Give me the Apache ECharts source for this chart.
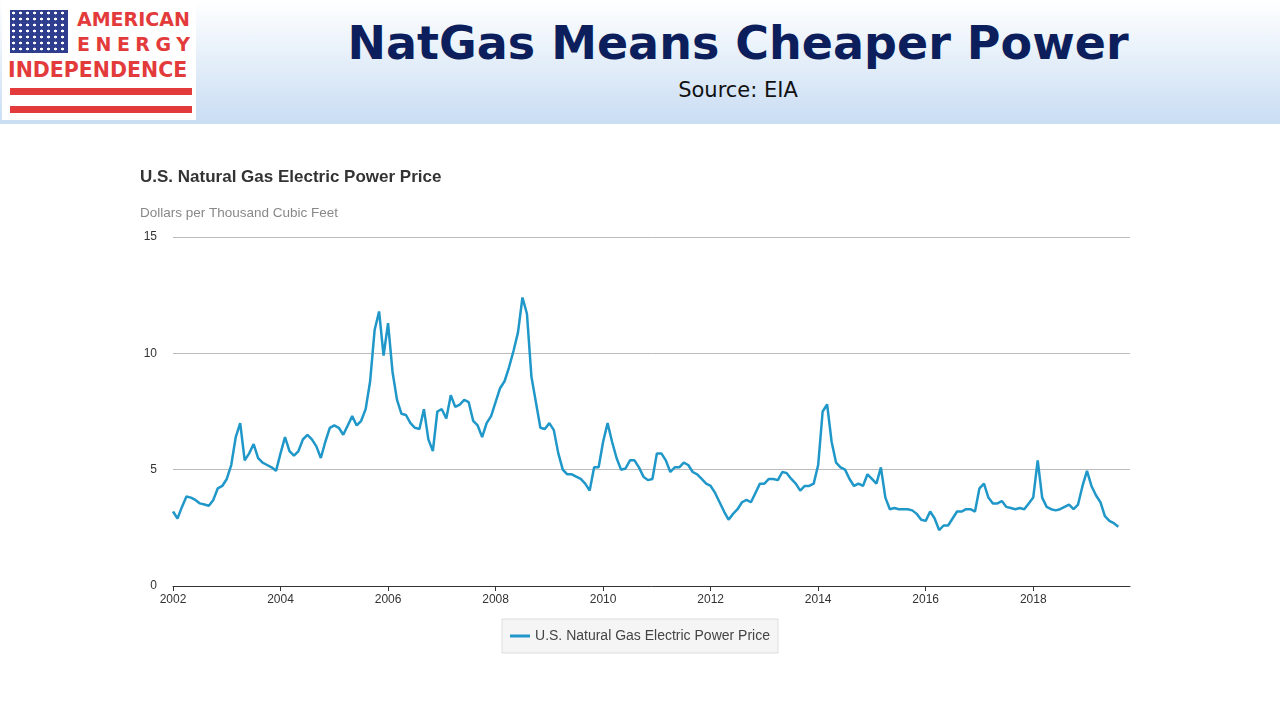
<!DOCTYPE html>
<html>
<head>
<meta charset="utf-8">
<script src="https://cdn.jsdelivr.net/npm/echarts@6/dist/echarts.min.js"></script>
<style>
body{margin:0;width:1280px;height:720px;overflow:hidden;background:#fff;font-family:"DejaVu Sans",sans-serif}
#head{position:absolute;left:0;top:0;width:1280px;height:124px;background:linear-gradient(#ffffff,#c9ddf3)}
#logo{position:absolute;left:2px;top:2px;width:194px;height:118px;background:#fff}
#flag{position:absolute;left:8px;top:8px;width:58px;height:43px;background:#2f3d8f;
 background-image:radial-gradient(circle,#fff 1.3px,transparent 1.6px);background-size:7px 6px}
.lt{position:absolute;color:#e33b3b;font-weight:bold;font-family:"DejaVu Sans",sans-serif}
.bar{position:absolute;left:8px;width:182px;height:7px;background:#e33b3b}
#t1{position:absolute;left:300px;width:876px;top:16px;text-align:center;color:#0c1f5c;font-weight:bold;font-size:46px;font-family:"DejaVu Sans",sans-serif}
#t2{position:absolute;left:300px;width:876px;top:78px;text-align:center;color:#111;font-size:21px}
#chart{position:absolute;left:0;top:124px;width:1280px;height:596px}
</style>
</head>
<body>
<div id="head">
 <div id="logo">
  <div id="flag"></div>
  <div class="lt" style="left:75px;top:6px;font-size:19px">AMERICAN</div>
  <div class="lt" style="left:75px;top:31px;font-size:19px;letter-spacing:5.5px">ENERGY</div>
  <div class="lt" style="left:6px;top:56px;font-size:20.5px">INDEPENDENCE</div>
  <div class="bar" style="top:86px"></div>
  <div class="bar" style="top:104px"></div>
 </div>
 <div id="t1">NatGas Means Cheaper Power</div>
 <div id="t2">Source: EIA</div>
</div>
<div id="chart"></div>
<script>
var startYear = 2002;
var v2002 = [3.2,2.9,3.4,3.85,3.8,3.7,3.55,3.5,3.45,3.7,4.2,4.3];
var v2003 = [4.6,5.2,6.4,7.0,5.4,5.7,6.1,5.5,5.3,5.2,5.1,4.95];
var v2004 = [5.7,6.4,5.8,5.6,5.8,6.3,6.5,6.3,6.0,5.5,6.2,6.8];
var v2005 = [6.9,6.8,6.5,6.9,7.3,6.9,7.1,7.6,8.8,11.0,11.8,9.9];
var v2006 = [11.3,9.2,8.0,7.4,7.35,7.0,6.8,6.75,7.6,6.3,5.8,7.5];
var v2007 = [7.6,7.2,8.2,7.7,7.8,8.0,7.9,7.1,6.9,6.4,7.0,7.3];
var v2008 = [7.9,8.5,8.8,9.4,10.1,10.9,12.4,11.7,9.0,7.9,6.8,6.75];
var v2009 = [7.0,6.7,5.7,5.0,4.8,4.8,4.7,4.6,4.4,4.1,5.1,5.1];
var v2010 = [6.2,7.0,6.2,5.5,5.0,5.05,5.4,5.4,5.1,4.7,4.55,4.6];
var v2011 = [5.7,5.7,5.4,4.9,5.1,5.1,5.3,5.2,4.9,4.8,4.6,4.4];
var v2012 = [4.3,4.0,3.6,3.2,2.85,3.1,3.3,3.6,3.7,3.6,4.0,4.4];
var v2013 = [4.4,4.6,4.6,4.55,4.9,4.85,4.6,4.4,4.1,4.3,4.3,4.4];
var v2014 = [5.2,7.5,7.8,6.2,5.3,5.1,5.0,4.6,4.3,4.4,4.3,4.8];
var v2015 = [4.6,4.4,5.1,3.8,3.3,3.35,3.3,3.3,3.3,3.25,3.1,2.85];
var v2016 = [2.8,3.2,2.9,2.4,2.6,2.6,2.9,3.2,3.2,3.3,3.3,3.2];
var v2017 = [4.2,4.4,3.8,3.55,3.55,3.65,3.4,3.35,3.3,3.35,3.3,3.55];
var v2018 = [3.8,5.4,3.8,3.4,3.3,3.25,3.3,3.4,3.5,3.3,3.5,4.3];
var v2019 = [4.95,4.3,3.9,3.6,3.0,2.8,2.7,2.55];
var yearly = [v2002,v2003,v2004,v2005,v2006,v2007,v2008,v2009,v2010,v2011,v2012,v2013,v2014,v2015,v2016,v2017,v2018,v2019];

// x as decimal year (year + month/12)
var seriesData = [];
for(var i=0;i<yearly.length;i++){
    for(var m=0;m<yearly[i].length;m++){
        seriesData.push([startYear+i+m/12, yearly[i][m]]);
    }
}

var chart = echarts.init(document.getElementById('chart'));
var font = '"Liberation Sans",Arial,sans-serif';
chart.setOption({
    animation:false,
    title:{
        text:'U.S. Natural Gas Electric Power Price',
        subtext:'Dollars per Thousand Cubic Feet',
        left:135, top:40, itemGap:20,
        textStyle:{fontFamily:font,fontSize:17,fontWeight:'bold',color:'#333'},
        subtextStyle:{fontFamily:font,fontSize:13.5,color:'#888'}
    },
    legend:{
        bottom:67, left:'center',
        data:['U.S. Natural Gas Electric Power Price'],
        backgroundColor:'#f5f5f5', borderColor:'#ddd', borderWidth:1,
        padding:[10,8,10,8], itemWidth:20, itemHeight:3, icon:'rect',
        textStyle:{fontFamily:font,fontSize:14,color:'#444'}
    },
    grid:{left:173,right:150,top:113,bottom:134},
    xAxis:{
        type:'value',
        min:2002, max:2019.8, interval:2,
        axisLine:{lineStyle:{color:'#333'}},
        axisTick:{show:true,length:5,lineStyle:{color:'#333'}},
        splitLine:{show:false},
        axisLabel:{fontFamily:font,fontSize:12,color:'#333',showMaxLabel:false,
            formatter:function(v){return String(v);}}
    },
    yAxis:{
        type:'value', min:0, max:15, interval:5,
        axisLine:{show:false}, axisTick:{show:false},
        splitLine:{lineStyle:{color:'#bbb'}},
        axisLabel:{fontFamily:font,fontSize:12,color:'#333',margin:16}
    },
    series:[{
        name:'U.S. Natural Gas Electric Power Price',
        type:'line', showSymbol:false, data:seriesData,
        lineStyle:{color:'#1f97c8',width:2.5},
        itemStyle:{color:'#1f97c8'}
    }]
});
</script>
</body>
</html>
